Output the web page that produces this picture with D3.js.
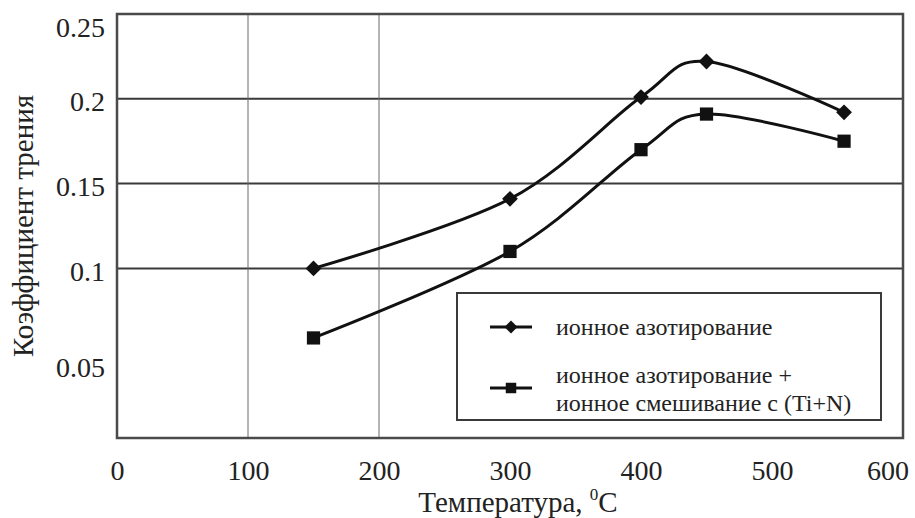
<!DOCTYPE html>
<html>
<head>
<meta charset="utf-8">
<script src="https://cdn.jsdelivr.net/npm/d3@7"></script>
<style>
  body { margin: 0; background: #fff; }
  svg { display: block; }
</style>
</head>
<body>
<div class="chart"></div>
<script>
// temperatures, degrees C
const temps = [150, 300, 400, 450, 555];
// friction coefficient, ion nitriding
const nitriding = [0.100, 0.141, 0.201, 0.222, 0.192];
// friction coefficient, ion nitriding + ion mixing with (Ti+N)
const nitridingMixing = [0.059, 0.110, 0.170, 0.191, 0.175];

const xTicks = [0, 100, 200, 300, 400, 500, 600];
const yTicks = [0.05, 0.1, 0.15, 0.2, 0.25];
const yGrid = [0.1, 0.15, 0.2];
const xGrid = [100, 200];

const seriesNames = ['ионное азотирование', ['ионное азотирование +', 'ионное смешивание с (Ti+N)']];

const FONT = '"Liberation Serif"';
const W = 915, H = 518;
const pLeft = 117, pRight = 903, pTop = 14, pBottom = 438;

const x = d3.scaleLinear().domain([0, 600]).range([pLeft, pRight]);
const y = d3.scaleLinear().domain([0, 0.25]).range([pBottom, pTop]);

const svg = d3.select('.chart')
    .append('svg')
        .attr('width', W)
        .attr('height', H);

// grid
svg.append('g')
    .selectAll('line')
    .data(yGrid)
    .enter()
        .append('line')
        .attr('x1', pLeft).attr('x2', pRight)
        .attr('y1', d => y(d)).attr('y2', d => y(d))
        .style('stroke', '#3a3a3a')
        .style('stroke-width', 2);

svg.append('g')
    .selectAll('line')
    .data(xGrid)
    .enter()
        .append('line')
        .attr('x1', d => x(d)).attr('x2', d => x(d))
        .attr('y1', pTop).attr('y2', pBottom)
        .style('stroke', '#6a6a6a')
        .style('stroke-width', 1);

// frame
svg.append('rect')
    .attr('x', pLeft).attr('y', pTop)
    .attr('width', pRight - pLeft).attr('height', pBottom - pTop)
    .style('fill', 'none')
    .style('stroke', '#4a4a4a')
    .style('stroke-width', 2.5);

// axes (labels only)
const xAxis = svg.append('g')
    .attr('transform', `translate(0,${pBottom})`)
    .call(d3.axisBottom(x).tickValues(xTicks).tickSize(0).tickPadding(22).tickFormat(d3.format('d')));
xAxis.select('.domain').remove();
xAxis.selectAll('text')
    .style('font-family', FONT)
    .style('font-size', '28px')
    .style('fill', '#222')
    .filter(d => d === 600)
        .attr('text-anchor', 'end')
        .attr('dx', '0.2em');

const yAxis = svg.append('g')
    .attr('transform', `translate(${pLeft},0)`)
    .call(d3.axisLeft(y).tickValues(yTicks).tickSize(0).tickPadding(12).tickFormat(d => String(d)));
yAxis.select('.domain').remove();
yAxis.selectAll('text')
    .style('font-family', FONT)
    .style('font-size', '28px')
    .style('fill', '#222')
    .attr('dy', d => (d === 0.25 || d === 0.05) ? '0.82em' : '0.42em');

// axis titles
const xTitle = svg.append('text')
    .attr('x', (pLeft + pRight) / 2 + 8)
    .attr('y', 512)
    .attr('text-anchor', 'middle')
    .style('font-family', FONT)
    .style('font-size', '29px')
    .style('fill', '#222');
xTitle.append('tspan').text('Температура, ');
xTitle.append('tspan').text('0').style('font-size', '17px').attr('dy', -12);
xTitle.append('tspan').text('C').attr('dy', 12);

svg.append('text')
    .attr('transform', `translate(33,${(pTop + pBottom) / 2}) rotate(-90)`)
    .attr('text-anchor', 'middle')
    .style('font-family', FONT)
    .style('font-size', '29px')
    .style('fill', '#222')
    .text('Коэффициент трения');

// lines
const line = d3.line()
    .x(d => x(d[0]))
    .y(d => y(d[1]))
    .curve(d3.curveCatmullRom.alpha(0));

const s1 = temps.map((t, i) => [t, nitriding[i]]);
const s2 = temps.map((t, i) => [t, nitridingMixing[i]]);

[s1, s2].forEach(s => {
    svg.append('path')
        .datum(s)
        .attr('d', line)
        .style('fill', 'none')
        .style('stroke', '#111')
        .style('stroke-width', 3);
});

const diamond = d3.symbol().type(d3.symbolSquare).size(125);
const square = d3.symbol().type(d3.symbolSquare).size(175);

svg.append('g')
    .selectAll('path')
    .data(s1)
    .enter()
        .append('path')
        .attr('d', diamond)
        .attr('transform', d => `translate(${x(d[0])},${y(d[1])}) rotate(45)`)
        .style('fill', '#111');

svg.append('g')
    .selectAll('path')
    .data(s2)
    .enter()
        .append('path')
        .attr('d', square)
        .attr('transform', d => `translate(${x(d[0])},${y(d[1])})`)
        .style('fill', '#111');

// legend
const legend = svg.append('g').attr('transform', 'translate(457,293)');
legend.append('rect')
    .attr('width', 424).attr('height', 127)
    .style('fill', '#fff')
    .style('stroke', '#3a3a3a')
    .style('stroke-width', 2);

const rows = legend.selectAll('g.row')
    .data(seriesNames)
    .enter()
        .append('g')
        .attr('class', 'row')
        .attr('transform', (d, i) => `translate(0,${i === 0 ? 34 : 95})`);

rows.append('line')
    .attr('x1', 33).attr('x2', 75)
    .style('stroke', '#111')
    .style('stroke-width', 3);

rows.append('path')
    .attr('d', (d, i) => i === 0
        ? d3.symbol().type(d3.symbolSquare).size(85)()
        : d3.symbol().type(d3.symbolSquare).size(110)())
    .attr('transform', (d, i) => `translate(54,0) rotate(${i === 0 ? 45 : 0})`)
    .style('fill', '#111');

rows.append('text')
    .attr('x', 99)
    .style('font-family', FONT)
    .style('font-size', '24px')
    .style('fill', '#222')
    .each(function (d) {
        const lines = Array.isArray(d) ? d : [d];
        const t = d3.select(this);
        lines.forEach((s, k) => {
            t.append('tspan')
                .attr('x', 99)
                .attr('y', lines.length === 1 ? 8 : (k === 0 ? -5 : 23))
                .text(s);
        });
    });
</script>
</body>
</html>
